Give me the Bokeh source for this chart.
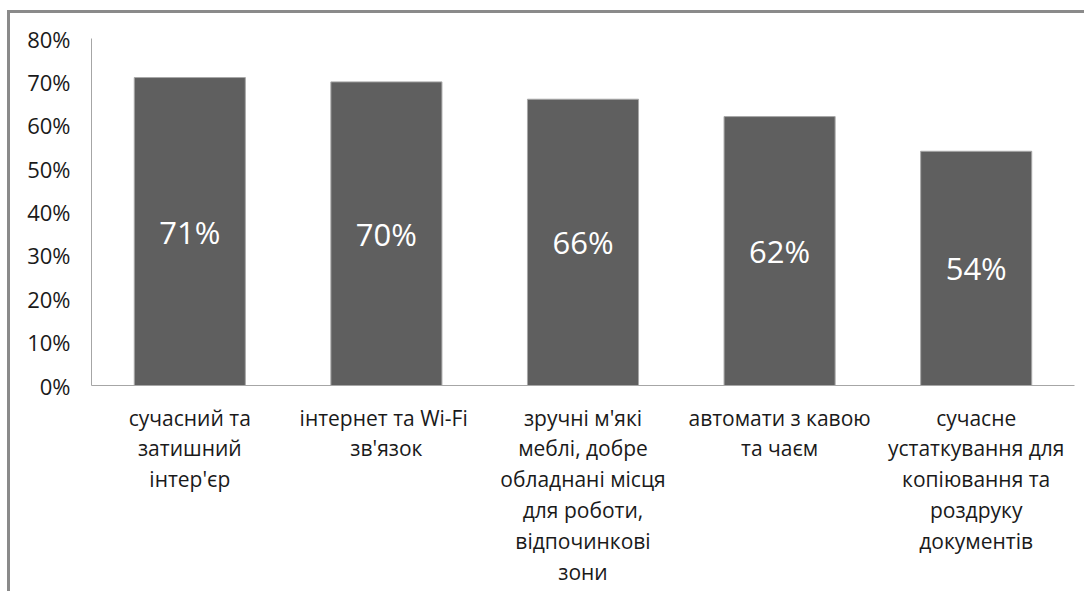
from bokeh.plotting import figure
from bokeh.models import ColumnDataSource, LabelSet, NumeralTickFormatter, FixedTicker
from bokeh.core.properties import value
from bokeh.embed import file_html
from bokeh.resources import INLINE

categories = [
    "сучасний та\nзатишний\nінтер'єр",
    "інтернет  та Wi-Fi\nзв'язок",
    "зручні м'які\nмеблі, добре\nобладнані місця\nдля роботи,\nвідпочинкові\nзони",
    "автомати з кавою\nта чаєм",
    "сучасне\nустаткування для\nкопіювання та\nроздруку\nдокументів",
]
values = [0.71, 0.70, 0.66, 0.62, 0.54]
y_ticks = [0, 0.1, 0.2, 0.3, 0.4, 0.5, 0.6, 0.7, 0.8]

FONT = "Open Sans"

source = ColumnDataSource(data=dict(
    cat=categories,
    val=values,
    mid=[v / 2 for v in values],
    txt=[f"{round(v * 100)}%" for v in values],
))

p = figure(
    x_range=categories, y_range=(0, 0.8),
    width=1077, height=581,
    output_backend="svg", toolbar_location=None,
    min_border_left=81, min_border_right=13, min_border_top=25, min_border_bottom=209,
)
p.styles = {"border-top": "3px solid #8a8a8a", "border-left": "3px solid #8a8a8a",
            "margin-top": "10px", "margin-left": "7px"}

p.vbar(x="cat", top="val", width=0.565, source=source,
       fill_color="#5f5f5f", line_color="#a8a8a8", line_width=1)

labels = LabelSet(x="cat", y="mid", text="txt", source=source,
                  text_align="center", text_baseline="middle",
                  text_color="white", text_font_size="31px", text_font=value(FONT))
p.add_layout(labels)

p.outline_line_color = None
p.grid.grid_line_color = None
p.background_fill_color = "white"
p.border_fill_color = "white"

p.yaxis.ticker = FixedTicker(ticks=y_ticks)
p.yaxis.formatter = NumeralTickFormatter(format="0%")
p.yaxis.major_tick_line_color = None
p.yaxis.minor_tick_line_color = None
p.yaxis.major_tick_out = 0
p.yaxis.major_label_standoff = 21
p.yaxis.axis_line_color = "#a6a6a6"
p.yaxis.major_label_text_font = FONT
p.yaxis.major_label_text_font_size = "22px"
p.yaxis.major_label_text_color = "#1a1a1a"

p.xaxis.major_tick_line_color = None
p.xaxis.major_tick_out = 0
p.xaxis.major_label_standoff = 18
p.xaxis.axis_line_color = "#a6a6a6"
p.xaxis.major_label_text_font = FONT
p.xaxis.major_label_text_font_size = "21px"
p.xaxis.major_label_text_color = "#1a1a1a"
p.xaxis.major_label_text_line_height = 1.1
p.xaxis.major_label_text_align = "center"

open("out.html", "w").write(file_html(p, INLINE))
